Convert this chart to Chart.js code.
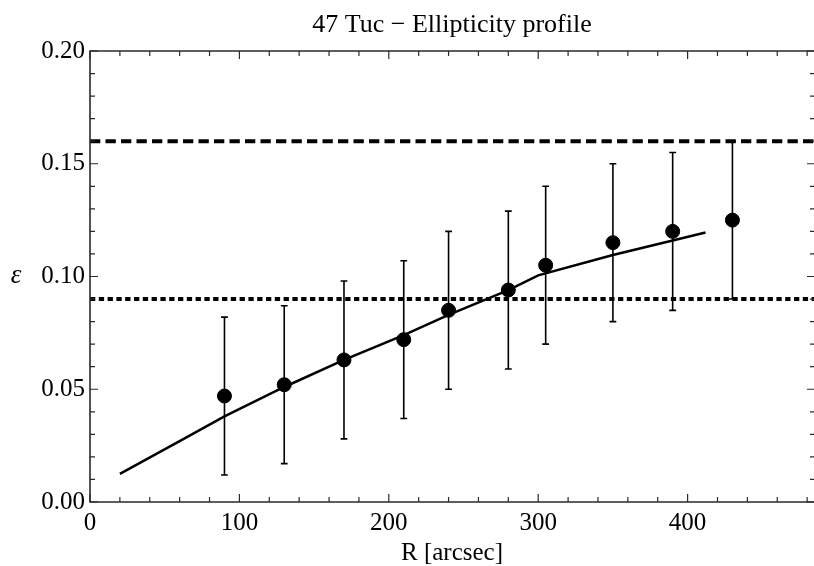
<!DOCTYPE html>
<html>
<head>
<meta charset="utf-8">
<script src="https://cdn.jsdelivr.net/npm/chart.js@4/dist/chart.umd.min.js"></script>
<style>
  html, body { margin: 0; padding: 0; background: #fff; overflow: hidden; }
  #wrap { width: 814px; height: 566px; }
</style>
</head>
<body>
<div id="wrap"><canvas id="c" width="814" height="566"></canvas></div>
<script>
// ---- data ----
const titleText = '47 Tuc \u2212 Ellipticity profile';
const xAxisTitle = 'R [arcsec]';
const yAxisTitle = '\u03b5';

const radius = [90, 130, 170, 210, 240, 280, 305, 350, 390, 430];
const ellipticity = [0.047, 0.052, 0.063, 0.072, 0.085, 0.094, 0.105, 0.115, 0.120, 0.125];
const errLow  = [0.012, 0.017, 0.028, 0.037, 0.050, 0.059, 0.070, 0.080, 0.085, 0.090];
const errHigh = [0.082, 0.087, 0.098, 0.107, 0.120, 0.129, 0.140, 0.150, 0.155, 0.160];

const modelRadius = [20, 60, 90, 130, 170, 210, 240, 280, 300, 350, 390, 412];
const modelEllipticity = [0.0125, 0.027, 0.038, 0.051, 0.063, 0.074, 0.083, 0.094, 0.1005, 0.1095, 0.116, 0.1195];

const upperLevel = 0.16;
const lowerLevel = 0.09;

const xRange = [0, 484.6];
const yRange = [0, 0.20];
const xTickValues = [0, 100, 200, 300, 400];
const yTickValues = [0, 0.05, 0.10, 0.15, 0.20];
const xMinorStep = 20;
const yMinorStep = 0.01;

// ---- chart ----
const serif = '"Liberation Serif", "DejaVu Serif", serif';

const errorBarPlugin = {
  id: 'errorBars',
  afterDatasetsDraw(chart) {
    const ctx = chart.ctx;
    const xs = chart.scales.x, ys = chart.scales.y;
    ctx.save();
    ctx.strokeStyle = '#000';
    ctx.lineWidth = 1.6;
    for (let i = 0; i < radius.length; i++) {
      const px = xs.getPixelForValue(radius[i]);
      const y1 = ys.getPixelForValue(errLow[i]);
      const y2 = ys.getPixelForValue(errHigh[i]);
      ctx.beginPath();
      ctx.moveTo(px, y1); ctx.lineTo(px, y2);
      ctx.moveTo(px - 3.4, y1); ctx.lineTo(px + 3.4, y1);
      ctx.moveTo(px - 3.4, y2); ctx.lineTo(px + 3.4, y2);
      ctx.stroke();
    }
    ctx.restore();
  }
};

const framePlugin = {
  id: 'frame',
  afterDraw(chart) {
    const ctx = chart.ctx;
    const a = chart.chartArea;
    const xs = chart.scales.x, ys = chart.scales.y;
    ctx.save();
    ctx.strokeStyle = '#2a2a2a';
    ctx.lineWidth = 1.6;
    ctx.beginPath();
    ctx.moveTo(a.right + 2, a.top); ctx.lineTo(a.left, a.top);
    ctx.lineTo(a.left, a.bottom); ctx.lineTo(a.right + 2, a.bottom);
    ctx.stroke();
    ctx.lineWidth = 1.2;
    ctx.beginPath();
    const nx = Math.floor((xRange[1] - xRange[0]) / xMinorStep);
    for (let k = 0; k <= nx; k++) {
      const v = xRange[0] + k * xMinorStep;
      const major = xTickValues.some(t => Math.abs(t - v) < 1e-9);
      const len = major ? 8 : 5;
      const px = xs.getPixelForValue(v);
      ctx.moveTo(px, a.bottom); ctx.lineTo(px, a.bottom - len);
      ctx.moveTo(px, a.top); ctx.lineTo(px, a.top + len);
    }
    const ny = Math.round((yRange[1] - yRange[0]) / yMinorStep);
    for (let k = 0; k <= ny; k++) {
      const v = yRange[0] + k * yMinorStep;
      const major = yTickValues.some(t => Math.abs(t - v) < 1e-9);
      const len = major ? 8 : 5;
      const py = ys.getPixelForValue(v);
      ctx.moveTo(a.left, py); ctx.lineTo(a.left + len, py);
      ctx.moveTo(a.right + 1, py); ctx.lineTo(a.right + 1 - len, py);
    }
    ctx.stroke();
    // upright italic epsilon as y-axis title
    ctx.fillStyle = '#000';
    ctx.font = 'italic 27px ' + serif;
    ctx.textAlign = 'center';
    ctx.textBaseline = 'middle';
    ctx.fillText(yAxisTitle, 16, ys.getPixelForValue(0.10) - 1);
    ctx.restore();
  }
};

new Chart(document.getElementById('c'), {
  type: 'scatter',
  data: {
    datasets: [
      {
        label: 'upper',
        type: 'line',
        data: [{x: xRange[0], y: upperLevel}, {x: xRange[1], y: upperLevel}],
        borderColor: '#000', borderWidth: 4, borderDash: [10.3, 5.2],
        pointRadius: 0, fill: false, borderCapStyle: 'butt'
      },
      {
        label: 'lower',
        type: 'line',
        data: [{x: xRange[0], y: lowerLevel}, {x: xRange[1], y: lowerLevel}],
        borderColor: '#000', borderWidth: 4, borderDash: [5.3, 3.5],
        pointRadius: 0, fill: false, borderCapStyle: 'butt'
      },
      {
        label: 'model',
        type: 'line',
        data: modelRadius.map((r, i) => ({x: r, y: modelEllipticity[i]})),
        borderColor: '#000', borderWidth: 2.5, tension: 0,
        pointRadius: 0, fill: false
      },
      {
        label: 'data',
        data: radius.map((r, i) => ({x: r, y: ellipticity[i]})),
        backgroundColor: '#000', borderColor: '#000',
        pointRadius: 7, pointHoverRadius: 7
      }
    ]
  },
  options: {
    responsive: false,
    animation: false,
    devicePixelRatio: 1,
    layout: { autoPadding: false, padding: { left: 0, right: 0, top: 0, bottom: 0 } },
    plugins: {
      legend: { display: false },
      tooltip: { enabled: false },
      title: {
        display: true,
        text: titleText,
        fullSize: false,
        color: '#000',
        font: { family: serif, size: 26, weight: 'normal', lineHeight: 1.2 },
        padding: { top: 10, bottom: 9.8 }
      }
    },
    scales: {
      x: {
        type: 'linear',
        min: xRange[0], max: xRange[1],
        afterBuildTicks(s) { s.ticks = xTickValues.map(v => ({value: v})); },
        afterFit(s) { s.height = 64; s.paddingLeft = 0; s.paddingRight = 0; },
        grid: { display: false, drawTicks: false },
        border: { display: false },
        ticks: {
          color: '#000', padding: 6,
          font: { family: serif, size: 25 },
          callback: v => String(v)
        },
        title: {
          display: true, text: xAxisTitle, color: '#000',
          font: { family: serif, size: 25, lineHeight: 1 },
          padding: { top: 0, bottom: 0 }
        }
      },
      y: {
        type: 'linear',
        min: yRange[0], max: yRange[1],
        afterBuildTicks(s) { s.ticks = yTickValues.map(v => ({value: v})); },
        afterFit(s) { s.width = 90; },
        grid: { display: false, drawTicks: false },
        border: { display: false },
        ticks: {
          color: '#000', padding: 5,
          font: { family: serif, size: 25 },
          callback: v => Number(v).toFixed(2)
        }
      }
    }
  },
  plugins: [errorBarPlugin, framePlugin]
});
</script>
</body>
</html>
